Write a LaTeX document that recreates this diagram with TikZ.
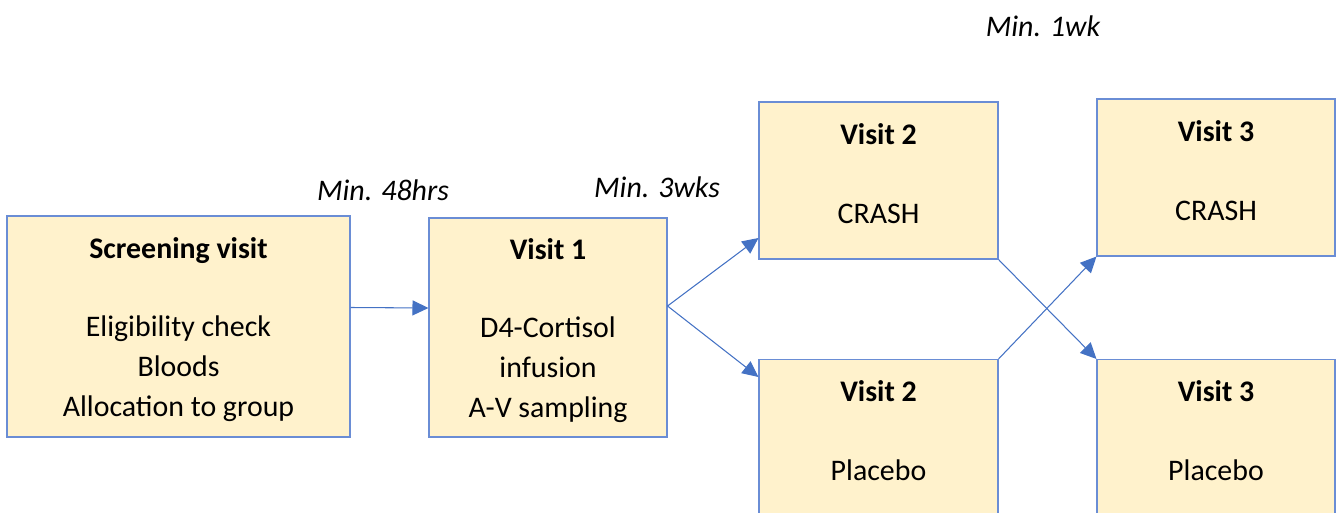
\documentclass[tikz,border=0pt]{standalone}
\usepackage{fontspec}
\setmainfont{Carlito}
\usetikzlibrary{arrows.meta}
\definecolor{boxfill}{HTML}{FFF2CC}
\definecolor{boxline}{HTML}{6A8DD5}
\definecolor{arrowblue}{HTML}{4472C4}

\begin{document}
\begin{tikzpicture}[>={Triangle[length=0.32cm,width=0.3cm]},
    box/.style={draw=boxline, fill=boxfill, line width=0.6pt, inner sep=0pt},
    boxtext/.style={anchor=north, align=center, inner sep=0pt, font=\fontsize{17}{22.8}\selectfont},
    gap/.style={font=\fontsize{17}{22.8}\selectfont\itshape},
    link/.style={->, draw=arrowblue, line width=0.6pt}]
    \clip (0,0) rectangle (26.78,10.24);

    % Nodes for the visits
    \node[box, minimum width=6.86cm, minimum height=4.42cm] (screen) at (3.57,3.71) {};
    \node[box, minimum width=4.76cm, minimum height=4.38cm] (visit1) at (10.96,3.69) {};
    \node[box, minimum width=4.78cm, minimum height=3.14cm] (v2crash) at (17.57,6.63) {};
    \node[box, minimum width=4.78cm, minimum height=3.14cm] (v2placebo) at (17.57,1.48) {};
    \node[box, minimum width=4.76cm, minimum height=3.14cm] (v3crash) at (24.32,6.69) {};
    \node[box, minimum width=4.76cm, minimum height=3.14cm] (v3placebo) at (24.32,1.48) {};

    % Texts in the boxes
    \node[boxtext] (screentext) at ([yshift=-0.44cm]screen.north) {\textbf{Screening visit}\\[0.76cm]Eligibility check\\Bloods\\Allocation to group};
    \node[boxtext] (visit1text) at ([yshift=-0.42cm]visit1.north) {\textbf{Visit 1}\\[0.76cm]D4-Cortisol\\infusion\\A-V sampling};
    \node[boxtext] (v2crashtext) at ([yshift=-0.43cm]v2crash.north) {\textbf{Visit 2}\\[0.78cm]CRASH};
    \node[boxtext] (v2placebotext) at ([yshift=-0.43cm]v2placebo.north) {\textbf{Visit 2}\\[0.78cm]Placebo};
    \node[boxtext] (v3crashtext) at ([yshift=-0.43cm]v3crash.north) {\textbf{Visit 3}\\[0.78cm]CRASH};
    \node[boxtext] (v3placebotext) at ([yshift=-0.43cm]v3placebo.north) {\textbf{Visit 3}\\[0.78cm]Placebo};

    % Minimum intervals
    \node[gap] (gap48) at (7.66,6.44) {Min. 48hrs};
    \node[gap] (gap3w) at (13.14,6.50) {Min. 3wks};
    \node[gap] (gap1w) at (20.86,9.72) {Min. 1wk};

    % Arrows between visits
    \draw[link] ([yshift=0.38cm]screen.east) -- ([yshift=0.39cm]visit1.west);
    \draw[link] ([yshift=0.43cm]visit1.east) -- ([yshift=-1.15cm]v2crash.west);
    \draw[link] ([yshift=0.43cm]visit1.east) -- ([yshift=1.22cm]v2placebo.west);
    \draw[link] (v2crash.south east) -- (v3placebo.north west);
    \draw[link] (v2placebo.north east) -- (v3crash.south west);
\end{tikzpicture}
\end{document}
